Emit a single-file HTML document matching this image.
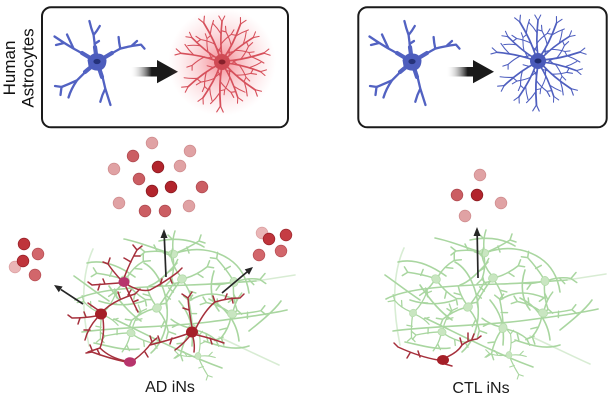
<!DOCTYPE html>
<html><head><meta charset="utf-8"><style>
html,body{margin:0;padding:0;background:#fff;}
svg{display:block;}
text{font-family:"Liberation Sans",Arial,sans-serif;}
</style></head><body>
<svg width="612" height="406" viewBox="0 0 612 406" xmlns="http://www.w3.org/2000/svg">
<defs>
  <linearGradient id="arrG" x1="0" y1="0" x2="1" y2="0">
    <stop offset="0" stop-color="#ffffff" stop-opacity="0"/>
    <stop offset="0.45" stop-color="#1a1a1a"/>
    <stop offset="1" stop-color="#1a1a1a"/>
  </linearGradient>
  <radialGradient id="glow" cx="0.5" cy="0.5" r="0.5">
    <stop offset="0" stop-color="#ef5a66" stop-opacity="0.7"/>
    <stop offset="0.45" stop-color="#f27a84" stop-opacity="0.35"/>
    <stop offset="1" stop-color="#f7a0a8" stop-opacity="0"/>
  </radialGradient>

  <g id="ast1" stroke-linecap="round" stroke-linejoin="round" fill="none">
    <g stroke="#5262c2" stroke-width="2.3">
      <path d="M-1,-6 Q-2,-16 -3.4,-27 Q-6,-34 -7.6,-41 M-3.4,-27 Q0,-31 2.8,-36 M-2.5,-18 L2,-21"/>
      <path d="M-6,-3 Q-15,-9 -23.4,-13.4 Q-33,-19 -42.5,-25.5 M-23.4,-13.4 Q-27,-21 -30,-27.5 M-33,-19 L-41,-17"/>
      <path d="M6,-3 Q15,-9 23.3,-13.4 Q33,-16 44,-17.4 L47.5,-13.4 M23.3,-13.4 Q22,-19 21.6,-25 M35,-16.5 L40,-21"/>
      <path d="M-5,4 Q-13,11 -20,18.3 Q-28,22 -35.5,25 L-36.5,33 M-20,18.3 Q-26,27 -28.5,35.5 M-35,25 L-42,24"/>
      <path d="M3,6 Q6,16 8.3,26.6 Q11,35 13.5,43 M8.3,26.6 Q5,33 3.3,39.8"/>
    </g>
    <g stroke="#5262c2" stroke-width="4.2">
      <path d="M0,0 L-2,-15 M0,0 L-15,-9 M0,0 L15,-9 M0,0 L-12,10 M0,0 L5,15"/>
    </g>
    <path d="M-9.5,-2 Q-6,-9.5 0,-8.5 Q7.5,-8.5 9.5,-2 Q9.5,6.5 3,8.5 Q-5,9.5 -8.5,4 Z" fill="#4d5dbd" stroke="none"/>
    <ellipse cx="0" cy="-0.5" rx="3.6" ry="2.6" fill="#25327a"/>
  </g>

  <g id="br" fill="none" stroke-linecap="round" stroke-linejoin="round">
    <path d="M5,0 Q22,2.5 44,0" stroke-width="1.8"/>
    <path d="M19,1.5 Q25,-3 30,-10 M30,-10 L29,-15 M30,-10 L35,-13 M31,1.3 Q37,5 42,10 M44,0 L50,-3 M44,0 L50,3.5 M11,1 L15,6" stroke-width="1.15"/>
  </g>
  <g id="bush">
    <use href="#br" transform="rotate(-168) scale(0.95)"/>
    <use href="#br" transform="rotate(-141) scale(0.88,-0.88)"/>
    <use href="#br" transform="rotate(-115) scale(0.98)"/>
    <use href="#br" transform="rotate(-90) scale(0.92,-0.92)"/>
    <use href="#br" transform="rotate(-64) scale(0.96)"/>
    <use href="#br" transform="rotate(-38) scale(0.9,-0.9)"/>
    <use href="#br" transform="rotate(-12) scale(0.97)"/>
    <use href="#br" transform="rotate(14) scale(0.9,-0.9)"/>
    <use href="#br" transform="rotate(40) scale(0.98)"/>
    <use href="#br" transform="rotate(66) scale(0.88,-0.88)"/>
    <use href="#br" transform="rotate(92) scale(1.0)"/>
    <use href="#br" transform="rotate(118) scale(0.92,-0.92)"/>
    <use href="#br" transform="rotate(144) scale(0.95)"/>
  </g>

  <g id="gn">
    <path fill="none" stroke-width="1.5" stroke-linecap="round" d="M0,-3 Q-2,-15 2,-26 M2,-26 L-3,-32 M2,-26 L7,-31 M0,-15 L6,-19 M3,1 Q15,4 28,2 M28,2 L33,-2 M28,2 L33,6 M16,3 L19,9 M-3,1 Q-15,6 -26,13 M-26,13 L-32,11 M-26,13 L-28,19 M-14,7 L-16,1 M0,4 Q1,14 -2,23 M0,14 L5,19"/>
    <ellipse rx="4.6" ry="4" fill="#c9e6c1" stroke="#b4dcab" stroke-width="0.8"/>
  </g>

  <g id="net" stroke="#a9d6a0" fill="none" stroke-linecap="round">
    <g stroke-width="1.6">
      <path d="M386,299 C405,289 440,286 500,284 C530,283 550,281 567,280"/>
      <path d="M393,331 C430,326 480,326 520,321 C560,316 585,312 598,309"/>
      <path d="M425,318 C455,332 492,352 533,367"/>
      <path d="M435,238 C455,242 470,250 482,252"/>
      <path d="M488,252 C505,246 525,248 540,258 C552,266 558,278 560,292"/>
      <path d="M398,262 C415,258 432,266 446,276"/>
      <path d="M455,262 C470,270 480,295 478,318 C476,335 470,345 462,352"/>
      <path d="M520,298 C535,305 548,320 550,340"/>
      <path d="M405,342 C420,345 435,350 450,348"/>
      <path d="M560,330 C570,322 585,310 592,300"/>
      <path d="M470,240 C490,236 505,240 515,246"/>
      <path d="M385,275 C395,282 405,290 420,300"/>
      <path d="M500,300 C515,290 530,292 545,298"/>
      <path d="M420,285 C430,300 440,312 452,320"/>
      <path d="M490,300 C500,312 505,325 503,345"/>
      <path d="M525,270 C520,285 522,300 530,310"/>
      <path d="M410,300 C425,305 440,305 455,300"/>
      <path d="M460,285 C470,282 480,270 488,262"/>
      <path d="M515,340 C530,345 545,350 560,345"/>
    </g>
    <g stroke-width="1.6" opacity="0.45">
      <path d="M567,280 L606,274"/>
      <path d="M404,248 C393,272 392,305 400,345"/>
      <path d="M530,336 C552,346 572,356 590,364"/>
    </g>
    <use href="#gn" transform="translate(484,253) rotate(180)"/>
    <use href="#gn" transform="translate(436,279) rotate(40)"/>
    <use href="#gn" transform="translate(493,278) rotate(-30)"/>
    <use href="#gn" transform="translate(545,281) rotate(80)"/>
    <use href="#gn" transform="translate(468,307) rotate(150)"/>
    <use href="#gn" transform="translate(413,313) rotate(-60) scale(0.85)"/>
    <use href="#gn" transform="translate(543,313) rotate(200)"/>
    <use href="#gn" transform="translate(442,332) rotate(20) scale(0.9)"/>
    <use href="#gn" transform="translate(503,328) rotate(110)"/>
    <use href="#gn" transform="translate(509,355) rotate(-90) scale(0.75)"/>
  </g>
</defs>

<text transform="translate(15,68) rotate(-90)" text-anchor="middle" font-size="17" fill="#111">Human</text>
<text transform="translate(33.5,68) rotate(-90)" text-anchor="middle" font-size="17" fill="#111">Astrocytes</text>

<rect x="42" y="7.3" width="246" height="120" rx="9" fill="#fff" stroke="#1a1a1a" stroke-width="2"/>
<rect x="358.3" y="7.3" width="248.4" height="120" rx="9" fill="#fff" stroke="#1a1a1a" stroke-width="2"/>

<use href="#ast1" transform="translate(97,62)"/>
<polygon points="130,67 157,67 157,60 178,71.7 157,83.3 157,76.5 130,76.5" fill="url(#arrG)"/>
<circle cx="222" cy="62" r="54" fill="url(#glow)"/>
<g transform="translate(222,62)" stroke="#d6505b">
  <use href="#bush"/>
  <circle r="8" fill="#cf4a54" stroke="none"/>
  <ellipse rx="3.5" ry="2.5" fill="#86202a" stroke="none"/>
</g>

<use href="#ast1" transform="translate(412,62)"/>
<polygon points="446,67 473,67 473,60 494,71.7 473,83.3 473,76.5 446,76.5" fill="url(#arrG)"/>
<g transform="translate(538,61)" stroke="#4f5fbf">
  <use href="#bush"/>
  <circle r="8" fill="#4a5aba" stroke="none"/>
  <ellipse rx="3.5" ry="2.5" fill="#1f2b6e" stroke="none"/>
</g>

<use href="#net"/>
<use href="#net" transform="translate(-311,1)"/>

<g fill="none" stroke="#a6303c" stroke-width="1.5" stroke-linecap="round">
  <path d="M124,278 Q130,262 137,250 M131,262 L124,258 M137,250 L133,245 M137,250 L142,246 M134,256 L140,256"/>
  <path d="M120,279 Q112,270 108,264 M108,264 L103,262 M108,264 L110,258"/>
  <path d="M119,283 Q105,284 92,285 M100,284 L98,290 M92,285 L88,282 M105,284 L103,279"/>
  <path d="M128,285 Q140,292 150,290 Q165,282 178,272 M160,285 L162,279 M170,278 L172,283 M178,272 L182,268"/>
  <path d="M126,287 Q132,300 138,312 M133,302 L138,300"/>
  <path d="M104,310 Q115,300 135,294 M120,298 L118,292 M128,295 L131,290 M135,294 L140,289"/>
  <path d="M96,316 Q85,318 72,318 M80,318 L78,324 M86,317 L84,312 M72,318 L68,315"/>
  <path d="M98,310 Q92,306 88,303"/>
  <path d="M103,319 Q105,335 100,348 Q110,358 126,361"/>
  <path d="M97,318 Q88,328 85,340 M90,330 L84,330 M100,348 L88,352 M92,350 L90,345"/>
  <path d="M134,360 Q145,352 152,342 M145,352 L148,357 M152,342 L150,336 M152,342 L157,338"/>
  <path d="M126,362 Q108,358 92,352 M100,355 L97,349 M92,352 L86,353"/>
  <path d="M192,327 Q189,312 188,298 M188,298 L182,294 M188,298 L192,292 M189,310 L183,308"/>
  <path d="M196,328 Q205,310 215,302 Q228,298 240,298 M215,302 L213,296 M225,299 L227,294 M232,298 L233,303 M240,298 L244,294"/>
  <path d="M187,334 Q170,340 150,345 M172,338 L170,344 M160,342 L158,336"/>
  <path d="M189,337 Q182,345 175,350 M193,337 Q195,345 194,352 M197,335 Q210,338 224,343 M210,338 L212,344"/>
  <path d="M438,360 Q420,357 398,347 M420,357 L418,351 M410,353 L407,358 M398,347 L394,343"/>
  <path d="M447,357 Q458,352 462,345 Q468,340 477,339 M462,345 L460,338 M468,340 L468,333 M472,339 L474,334 M477,339 L481,336 M445,364 L452,366"/>
</g>
<ellipse cx="124" cy="282" rx="5.5" ry="5" fill="#b7346c"/>
<ellipse cx="101" cy="314" rx="6" ry="5.5" fill="#a51f28"/>
<ellipse cx="130" cy="362" rx="6" ry="4.8" fill="#b7346c"/>
<ellipse cx="192" cy="332" rx="6" ry="5.5" fill="#a51f28"/>
<ellipse cx="443" cy="360" rx="6" ry="5" fill="#a51f28"/>

<g stroke="#262626" stroke-width="1.7" fill="#262626">
  <line x1="166" y1="277" x2="164.3" y2="237"/>
  <polygon points="164,229 160.5,238 167.5,238" stroke="none"/>
  <line x1="83" y1="304" x2="61" y2="289.6"/>
  <polygon points="54,285 62.6,286.5 58.8,292.3" stroke="none"/>
  <line x1="222" y1="293" x2="247" y2="272"/>
  <polygon points="253,267 249.1,274.8 244.7,269.4" stroke="none"/>
  <line x1="478" y1="278" x2="477.2" y2="235"/>
  <polygon points="477,227 473.5,236 480.5,236" stroke="none"/>
</g>

<g stroke-width="0.8">
  <circle cx="152" cy="143" r="5.8" fill="#e0a2a4" stroke="#d08c8e"/>
  <circle cx="190" cy="151" r="5.8" fill="#e0a2a4" stroke="#d08c8e"/>
  <circle cx="133" cy="156" r="5.8" fill="#cb5e63" stroke="#b04a50"/>
  <circle cx="114" cy="169" r="5.8" fill="#e0a2a4" stroke="#d08c8e"/>
  <circle cx="158" cy="167" r="5.8" fill="#b2242c" stroke="#8a1a20"/>
  <circle cx="180" cy="166" r="5.8" fill="#e0a2a4" stroke="#d08c8e"/>
  <circle cx="139" cy="179" r="5.8" fill="#cb5e63" stroke="#b04a50"/>
  <circle cx="152" cy="191" r="5.8" fill="#b2242c" stroke="#8a1a20"/>
  <circle cx="171" cy="187" r="5.8" fill="#b2242c" stroke="#8a1a20"/>
  <circle cx="202" cy="187" r="5.8" fill="#cb5e63" stroke="#b04a50"/>
  <circle cx="119" cy="203" r="5.8" fill="#e0a2a4" stroke="#d08c8e"/>
  <circle cx="145" cy="211" r="5.8" fill="#cb5e63" stroke="#b04a50"/>
  <circle cx="165" cy="211" r="5.8" fill="#cb5e63" stroke="#b04a50"/>
  <circle cx="189" cy="206" r="5.8" fill="#e0a2a4" stroke="#d08c8e"/>
  <circle cx="24" cy="244" r="5.8" fill="#bf343b" stroke="#9a2229"/>
  <circle cx="38" cy="254" r="5.8" fill="#d2666b" stroke="#b84f55"/>
  <circle cx="15" cy="267" r="5.8" fill="#eab6b7" stroke="#dca0a2"/>
  <circle cx="23" cy="261" r="5.8" fill="#bf343b" stroke="#9a2229"/>
  <circle cx="35" cy="275" r="5.8" fill="#d2666b" stroke="#b84f55"/>
  <circle cx="262" cy="233" r="5.8" fill="#eab6b7" stroke="#dca0a2"/>
  <circle cx="269" cy="239" r="5.8" fill="#bf343b" stroke="#9a2229"/>
  <circle cx="286" cy="235" r="5.8" fill="#c53c43" stroke="#a02a30"/>
  <circle cx="259" cy="255" r="5.8" fill="#d2666b" stroke="#b84f55"/>
  <circle cx="281" cy="251" r="5.8" fill="#d2666b" stroke="#b84f55"/>
  <circle cx="480" cy="175" r="5.8" fill="#e0a2a4" stroke="#d08c8e"/>
  <circle cx="457" cy="195" r="5.8" fill="#cb5e63" stroke="#b04a50"/>
  <circle cx="477" cy="195" r="5.8" fill="#b2242c" stroke="#8a1a20"/>
  <circle cx="501" cy="203" r="5.8" fill="#e0a2a4" stroke="#d08c8e"/>
  <circle cx="465" cy="216" r="5.8" fill="#e0a2a4" stroke="#d08c8e"/>
</g>

<text x="170" y="392" text-anchor="middle" font-size="16" fill="#1a1a1a">AD iNs</text>
<text x="481" y="393" text-anchor="middle" font-size="16" fill="#1a1a1a">CTL iNs</text>
</svg>
</body></html>
